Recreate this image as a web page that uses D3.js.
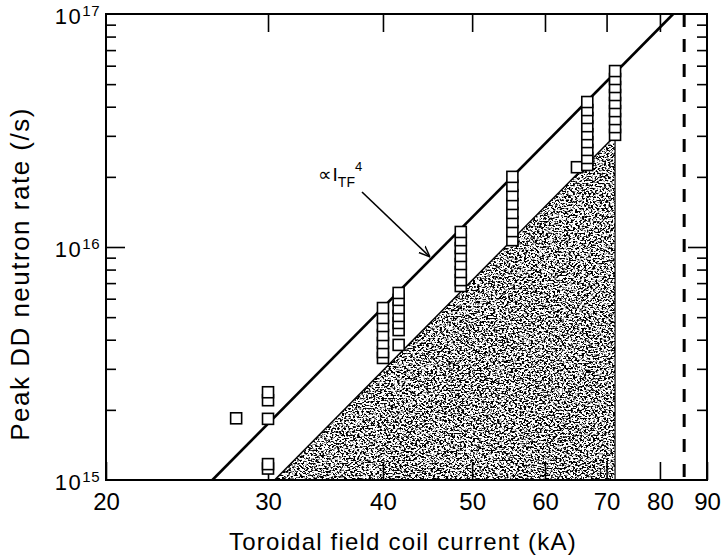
<!DOCTYPE html>
<html>
<head>
<meta charset="utf-8">
<script src="https://cdn.jsdelivr.net/npm/d3@7"></script>
<style>
  body { margin: 0; background: #fff; }
  svg { display: block; font-family: "Liberation Sans", Arial, sans-serif; }
  text { fill: #000; }
</style>
</head>
<body>
<svg id="chart" width="721" height="558"></svg>
<script>
// shot columns (toroidal field current, kA) and their peak DD neutron rates (/s)
const columnCurrents = [27.7, 30, 40, 41.6, 48.6, 55.3, 65, 66.7, 71.5];
const columnRates = [
  [1.84e15],
  [1.12e15, 1.17e15, 1.83e15, 2.2e15, 2.38e15],
  [3.34e15, 3.54e15, 3.87e15, 4.19e15, 4.58e15, 4.96e15, 5.47e15],
  [3.8e15, 4.4e15, 4.72e15, 5.06e15, 5.47e15, 5.93e15, 6.35e15],
  [6.8e15, 7.21e15, 7.81e15, 8.45e15, 9.15e15, 9.9e15, 1.07e16, 1.16e16],
  [1.07e16, 1.17e16, 1.28e16, 1.4e16, 1.53e16, 1.67e16, 1.83e16, 2.0e16],
  [2.2e16],
  [2.25e16, 2.41e16, 2.61e16, 2.82e16, 3.05e16, 3.3e16, 3.58e16, 3.87e16, 4.19e16],
  [3.03e16, 3.27e16, 3.54e16, 3.83e16, 4.15e16, 4.49e16, 4.86e16, 5.26e16, 5.69e16]
];

// I_TF^4 scaling line (end points)
const fitCurrent = [26.1, 82.7];
const fitRate = [1e15, 1e17];

// shaded region
const shadeCurrent = [30.5, 71.5, 71.5];
const shadeRate = [1e15, 3.0e16, 1e15];

// dashed limit
const limitCurrent = 85;

const xTicks = [20, 30, 40, 50, 60, 70, 80, 90];
const yDecades = [15, 16, 17];

const svg = d3.select("#chart");
const margin = {top: 14, right: 14, bottom: 78, left: 106};
const W = 721, H = 558;

const x = d3.scaleLog().domain([20, 90]).range([margin.left, W - margin.right]);
const y = d3.scaleLog().domain([1e15, 1e17]).range([H - margin.bottom, margin.top]);

// halftone-like grain for the shaded area
const defs = svg.append("defs");
const filt = defs.append("filter").attr("id", "grain")
  .attr("x", 0).attr("y", 0).attr("width", 1).attr("height", 1);
filt.append("feTurbulence").attr("type", "fractalNoise")
  .attr("baseFrequency", "0.45 0.6").attr("numOctaves", 3).attr("seed", 7).attr("result", "n");
filt.append("feColorMatrix").attr("in", "n").attr("type", "matrix")
  .attr("values", "0 0 0 0 0  0 0 0 0 0  0 0 0 0 0  8 0 0 0 -3.75").attr("result", "dots");
filt.append("feComposite").attr("in", "dots").attr("in2", "SourceGraphic").attr("operator", "in");

const shadePts = shadeCurrent.map((c, i) => [x(c), y(shadeRate[i])]);
svg.append("path")
  .attr("d", d3.line()(shadePts) + "Z")
  .attr("fill", "#000")
  .attr("filter", "url(#grain)");
svg.append("path")
  .attr("d", d3.line()(shadePts.slice(0, 2)))
  .attr("stroke", "#000").attr("stroke-width", 1.5).attr("fill", "none");
svg.append("path")
  .attr("d", d3.line()(shadePts.slice(1)))
  .attr("stroke", "#000").attr("stroke-width", 1.2).attr("fill", "none");

// axes ticks
const minor = [];
for (let e = 15; e < 17; e++) for (let m = 2; m <= 9; m++) minor.push(m * Math.pow(10, e));
const yTickVals = minor.concat([1e16]);
const tickLen = d => (d === 1e16 ? 19 : 10);

const gl = svg.append("g").attr("transform", `translate(${margin.left},0)`)
  .call(d3.axisLeft(y).tickValues(yTickVals).tickSize(-10).tickFormat(""));
gl.selectAll(".tick line").attr("x2", d => tickLen(d));

const gr = svg.append("g").attr("transform", `translate(${W - margin.right},0)`)
  .call(d3.axisRight(y).tickValues(yTickVals).tickSize(-10).tickFormat(""));
gr.selectAll(".tick line").attr("x2", d => -tickLen(d));

const gb = svg.append("g").attr("transform", `translate(0,${H - margin.bottom})`)
  .call(d3.axisBottom(x).tickValues(xTicks).tickSize(-18).tickPadding(13).tickFormat(d3.format("d")));
const gt = svg.append("g").attr("transform", `translate(0,${margin.top})`)
  .call(d3.axisTop(x).tickValues(xTicks.slice(1, -1)).tickSize(-18).tickFormat(""));

[gl, gr, gb, gt].forEach(g => {
  g.select(".domain").remove();
  g.selectAll(".tick line").attr("stroke", "#000").attr("stroke-width", 1.6);
});
gb.selectAll(".tick text")
  .attr("font-size", 24).attr("fill", "#000").attr("font-family", "Liberation Sans, Arial, sans-serif");

// frame
svg.append("rect")
  .attr("x", margin.left).attr("y", margin.top)
  .attr("width", W - margin.left - margin.right)
  .attr("height", H - margin.bottom - margin.top)
  .attr("fill", "none").attr("stroke", "#000").attr("stroke-width", 2);

// y decade labels
yDecades.forEach(e => {
  const t = svg.append("text")
    .attr("x", 100).attr("y", y(Math.pow(10, e)) + 10)
    .attr("text-anchor", "end").attr("font-size", 22).attr("letter-spacing", 1.5);
  t.append("tspan").text("10");
  t.append("tspan").attr("dy", -8).attr("font-size", 15).attr("letter-spacing", 0.5).text(e);
});

// dashed limit line
svg.append("line")
  .attr("x1", x(limitCurrent)).attr("x2", x(limitCurrent))
  .attr("y1", y(1e17)).attr("y2", y(1e15))
  .attr("stroke", "#000").attr("stroke-width", 3).attr("stroke-dasharray", "13 12");

// I^4 line
svg.append("path")
  .attr("d", d3.line()(fitCurrent.map((c, i) => [x(c), y(fitRate[i])])))
  .attr("stroke", "#000").attr("stroke-width", 2.6).attr("fill", "none");

// data squares
const pts = [];
columnCurrents.forEach((c, i) => columnRates[i].forEach(r => pts.push([c, r])));
const sz = 11;
svg.append("g").selectAll("rect").data(pts).join("rect")
  .attr("x", d => x(d[0]) - sz / 2).attr("y", d => y(d[1]) - sz / 2)
  .attr("width", sz).attr("height", sz)
  .attr("fill", "#fff").attr("stroke", "#000").attr("stroke-width", 1.6);

// annotation
const ann = svg.append("text").attr("x", 318).attr("y", 181).attr("font-size", 19);
ann.append("tspan").attr("font-family", "DejaVu Sans").attr("font-size", 19).text("\u221D");
ann.append("tspan").attr("dx", 1).text("I");
ann.append("tspan").attr("dy", 6).attr("font-size", 14).text("TF");
ann.append("tspan").attr("dy", -16).attr("font-size", 13).text("4");

defs.append("marker").attr("id", "ah")
  .attr("viewBox", "0 0 10 10").attr("refX", 10).attr("refY", 5)
  .attr("markerWidth", 7).attr("markerHeight", 7).attr("orient", "auto")
  .append("path").attr("d", "M0,1 L10,5 L0,9").attr("fill", "none").attr("stroke", "#000").attr("stroke-width", 1.3);
svg.append("line")
  .attr("x1", 362).attr("y1", 192).attr("x2", 430).attr("y2", 257)
  .attr("stroke", "#000").attr("stroke-width", 1.6).attr("marker-end", "url(#ah)");

// axis titles
svg.append("text")
  .attr("x", 403).attr("y", 550).attr("text-anchor", "middle")
  .attr("font-size", 24).attr("letter-spacing", 1.2)
  .text("Toroidal field coil current (kA)");
svg.append("text")
  .attr("transform", "translate(29,274) rotate(-90)").attr("text-anchor", "middle")
  .attr("font-size", 26).attr("letter-spacing", 1.5)
  .text("Peak DD neutron rate (/s)");
</script>
</body>
</html>
